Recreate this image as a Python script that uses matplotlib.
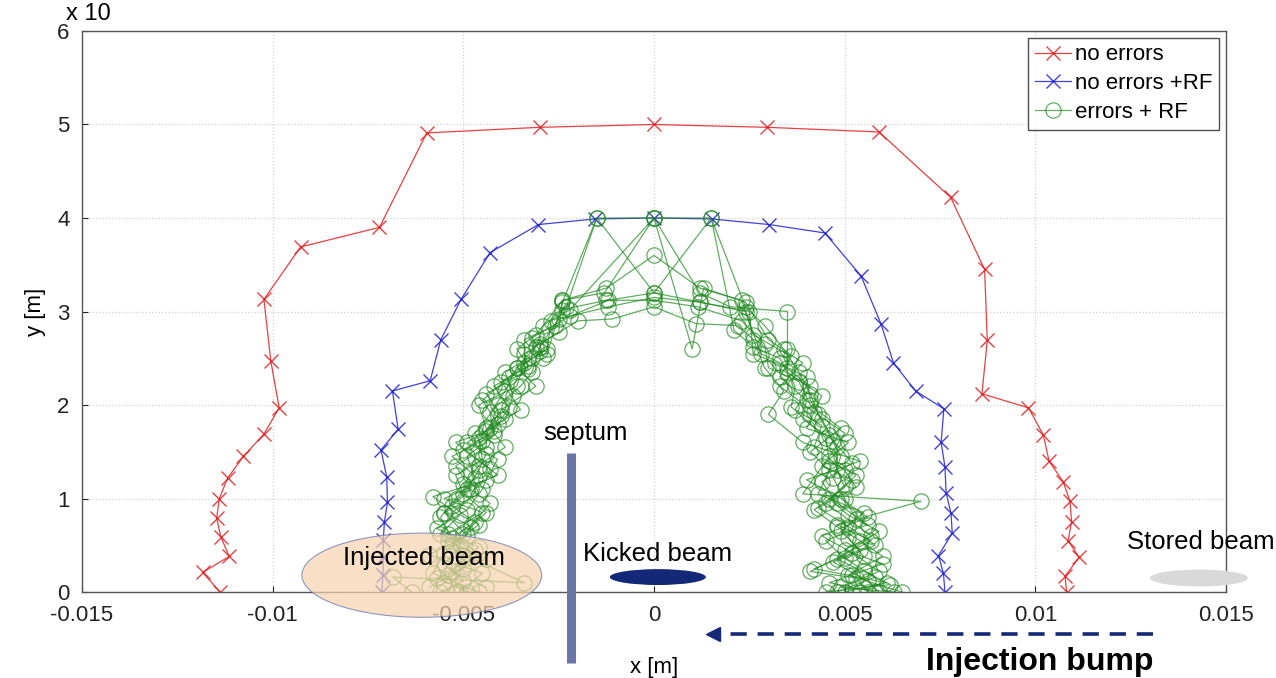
import matplotlib
matplotlib.use('Agg')
import matplotlib.pyplot as plt
from matplotlib.patches import Ellipse
import numpy as np

plt.rcParams['font.family'] = ['Liberation Sans', 'DejaVu Sans']

# Dynamic aperture, y in units of 1e-3 m
red_x = [-0.01138, -0.01184, -0.01114, -0.01136, -0.01147, -0.01140, -0.01118,
         -0.01077, -0.01023, -0.00983, -0.01005, -0.01023, -0.00927, -0.00720,
         -0.00596, -0.00299, 0.0, 0.00296, 0.00590, 0.00778, 0.00867, 0.00874,
         0.00860, 0.00982, 0.01021, 0.01036, 0.01073, 0.01091, 0.01095, 0.01086,
         0.01115, 0.01078, 0.01082]
red_y = [0.0, 0.21, 0.38, 0.59, 0.79, 1.0, 1.22, 1.45, 1.69, 1.97, 2.47, 3.13,
         3.69, 3.90, 4.91, 4.97, 5.0, 4.97, 4.92, 4.22, 3.45, 2.69, 2.12, 1.97,
         1.68, 1.40, 1.18, 0.97, 0.75, 0.55, 0.37, 0.17, 0.0]

blue_x = [-0.00714, -0.00711, -0.00710, -0.00710, -0.00707, -0.00699, -0.00701,
          -0.00716, -0.00671, -0.00686, -0.00587, -0.00559, -0.00506, -0.00430,
          -0.00303, -0.00155, 0.0, 0.00151, 0.00302, 0.00448, 0.00543, 0.00595,
          0.00628, 0.00686, 0.00760, 0.00753, 0.00763, 0.00766, 0.00779, 0.00782,
          0.00746, 0.00759, 0.00763]
blue_y = [0.0, 0.18, 0.37, 0.56, 0.75, 0.96, 1.23, 1.52, 1.74, 2.15, 2.26, 2.70,
          3.13, 3.63, 3.93, 3.99, 4.0, 3.99, 3.93, 3.84, 3.38, 2.87, 2.45, 2.15,
          1.96, 1.60, 1.34, 1.06, 0.84, 0.63, 0.39, 0.20, 0.0]

# errors + RF, one list per seed (x in mm)
seeds_x_mm = [
    [-5.2, -5.4, -5.0, -5.3, -5.6, -5.2, -4.7, -4.9, -4.2, -4.3, -3.9, -3.6, -3.1,
     -2.9, -2.3, -1.5, 0.0, 1.5, 2.4, 2.9, 3.4, 3.8, 4.1, 4.3, 4.6, 4.9, 4.7, 5.0,
     5.3, 5.1, 5.5, 5.2, 5.4],
    [-4.6, -5.8, -5.5, -5.0, -4.4, -5.0, -5.2, -4.5, -4.6, -4.0, -4.4, -3.3, -3.4,
     -2.5, -2.4, -1.25, 0.0, 1.2, 2.3, 2.6, 3.6, 3.3, 4.0, 3.9, 4.7, 5.2, 4.4, 4.8,
     5.6, 4.5, 5.0, 5.8, 4.8],
    [-5.9, -5.0, -4.7, -5.6, -5.1, -5.8, -4.4, -4.1, -4.9, -3.9, -3.7, -3.9, -3.0,
     -3.2, -2.2, -1.2, 0.0, 1.2, 2.4, 2.8, 3.3, 4.1, 3.7, 4.4, 4.2, 5.0, 5.3, 4.3,
     5.1, 5.8, 4.7, 5.6, 5.9],
    [-5.5, -4.9, -5.3, -4.6, -5.3, -4.8, -5.2, -4.4, -4.4, -4.6, -3.6, -3.4, -3.4,
     -2.6, -2.4, -1.25, 0.0, 1.15, 2.3, 2.9, 3.0, 3.8, 4.1, 4.9, 4.1, 4.6, 4.3, 5.5,
     4.9, 5.4, 4.2, 6.1, 5.0],
    [-4.9, -5.7, -4.4, -5.4, -4.7, -4.3, -5.0, -4.6, -3.9, -4.3, -3.5, -4.0, -2.9,
     -3.0, -2.0, -1.1, 0.0, 1.1, 2.2, 2.6, 2.9, 3.4, 3.0, 3.9, 5.4, 4.0, 4.9, 5.6,
     4.4, 5.2, 5.9, 4.9, 6.3],
    [-6.35, -6.85, -3.4, -5.0, -5.4, -4.5, -5.5, -4.1, -5.2, -4.4, -4.0, -3.1, -3.6,
     -2.8, -2.7, -2.2, 0.0, 1.0, 1.3, 2.4, 3.0, 3.9, 3.3, 4.2, 5.0, 4.6, 3.9, 7.0,
     4.8, 5.7, 4.1, 5.3, 5.6],
    [-4.4, -5.3, -4.6, -5.7, -4.9, -4.5, -4.3, -5.0, -4.2, -3.8, -4.2, -3.3, -3.6,
     -3.1, -2.4, -1.3, 0.0, 1.2, 2.0, 3.5, 3.5, 3.5, 4.4, 4.0, 5.1, 4.4, 5.2, 4.5,
     5.7, 5.0, 6.0, 4.6, 5.8],
    [-5.1, -4.5, -5.9, -4.9, -5.5, -4.6, -4.8, -5.3, -4.5, -4.1, -4.5, -3.8, -3.2,
     -2.8, -2.4, -1.5, 0.0, 1.5, 2.1, 2.6, 3.3, 3.7, 3.6, 4.5, 4.6, 5.3, 4.6, 5.1,
     5.9, 4.8, 5.5, 6.2, 4.5],
    [-5.6, -5.0, -5.5, -5.1, -4.8, -5.5, -4.9, -4.6, -4.4, -4.7, -4.1, -3.5, -3.2,
     -3.0, -2.5, -1.2, 0.0, 1.2, 2.5, 2.6, 3.5, 4.0, 4.1, 4.4, 4.8, 4.8, 5.0, 4.2,
     4.8, 5.4, 6.0, 5.1, 6.5],
]
seeds_y = [
    [0.0, 0.18, 0.38, 0.58, 0.80, 1.0, 1.22, 1.45, 1.68, 1.92, 2.15, 2.40, 2.62,
     2.85, 3.05, 4.0, 4.0, 4.0, 3.05, 2.85, 2.60, 2.35, 2.12, 1.90, 1.68, 1.45, 1.22,
     1.0, 0.78, 0.58, 0.38, 0.18, 0.0],
    [0.0, 0.20, 0.42, 0.62, 0.85, 1.05, 1.25, 1.42, 1.65, 1.88, 2.12, 2.38, 2.55,
     2.78, 3.12, 3.25, 3.6, 3.25, 3.12, 2.75, 2.52, 2.30, 2.05, 1.85, 1.62, 1.38, 1.18,
     0.95, 0.72, 0.55, 0.36, 0.16, 0.0],
    [0.05, 0.25, 0.45, 0.62, 0.82, 1.02, 1.20, 1.42, 1.60, 1.85, 2.10, 2.35, 2.58,
     2.72, 2.95, 3.12, 3.2, 3.10, 3.0, 2.55, 2.45, 2.20, 1.95, 1.78, 1.55, 1.30, 1.12,
     0.90, 0.70, 0.50, 0.32, 0.12, 0.0],
    [0.10, 0.30, 0.50, 0.72, 0.92, 1.10, 1.35, 1.55, 1.75, 2.0, 2.20, 2.45, 2.70,
     2.85, 3.02, 3.12, 3.12, 3.05, 2.90, 2.65, 2.40, 2.25, 2.0, 1.75, 1.50, 1.30, 1.05,
     0.85, 0.65, 0.45, 0.25, 0.10, 0.0],
    [0.0, 0.15, 0.35, 0.55, 0.75, 0.95, 1.15, 1.35, 1.55, 1.75, 1.95, 2.25, 2.50,
     2.65, 2.90, 2.92, 3.05, 2.87, 2.85, 2.70, 2.40, 2.15, 1.90, 1.60, 1.40, 1.20, 1.0,
     0.80, 0.60, 0.42, 0.22, 0.05, 0.0],
    [0.0, 0.16, 0.10, 0.40, 0.62, 0.85, 1.0, 1.25, 1.60, 1.72, 1.95, 2.20, 2.40,
     2.60, 2.90, 3.02, 4.0, 2.60, 3.25, 3.10, 2.70, 2.45, 2.20, 1.92, 1.70, 1.45, 1.05,
     0.97, 0.72, 0.55, 0.22, 0.15, 0.0],
    [0.05, 0.22, 0.48, 0.68, 0.88, 1.10, 1.32, 1.52, 1.72, 1.98, 2.20, 2.42, 2.60,
     2.75, 3.12, 3.20, 4.0, 3.20, 3.05, 3.0, 2.60, 2.35, 2.10, 1.75, 1.60, 1.35, 1.20,
     0.95, 0.60, 0.45, 0.30, 0.10, 0.0],
    [0.0, 0.20, 0.40, 0.60, 0.85, 1.05, 1.28, 1.45, 1.62, 1.80, 2.05, 2.30, 2.50,
     2.55, 3.10, 4.0, 3.2, 4.0, 2.80, 2.62, 2.50, 2.20, 1.98, 1.65, 1.40, 1.25, 1.0,
     0.82, 0.65, 0.35, 0.22, 0.08, 0.0],
    [0.0, 0.12, 0.30, 0.50, 0.70, 0.85, 1.10, 1.30, 1.48, 1.70, 2.0, 2.20, 2.35,
     2.62, 2.92, 3.05, 3.15, 3.10, 3.0, 2.55, 2.40, 2.30, 2.05, 1.85, 1.55, 1.30, 1.12,
     0.88, 0.70, 0.55, 0.38, 0.18, 0.0],
]

labels = ['no errors', 'no errors +RF', 'errors + RF']
x_ticks = [-0.015, -0.01, -0.005, 0, 0.005, 0.01, 0.015]
x_tick_labels = ['-0.015', '-0.01', '-0.005', '0', '0.005', '0.01', '0.015']
y_ticks = [0, 1, 2, 3, 4, 5, 6]

fig = plt.figure(figsize=(12.76, 6.78), dpi=100)
ax = fig.add_axes([0.0643, 0.1268, 0.8965, 0.8275])

green = '#1f8a1f'
ax.plot(red_x, red_y, color='#e02020', marker='x', markersize=10,
        linewidth=0.9, markeredgewidth=1.0, alpha=0.85, label=labels[0])
ax.plot(blue_x, blue_y, color='#2020d0', marker='x', markersize=10,
        linewidth=0.9, markeredgewidth=1.0, alpha=0.85, label=labels[1])
for i, (sx, sy) in enumerate(zip(seeds_x_mm, seeds_y)):
    ax.plot(np.array(sx) * 1e-3, sy, color=green, marker='o', markersize=11,
            fillstyle='none', linewidth=0.9, markeredgewidth=0.9, alpha=0.7,
            label=labels[2] if i == 0 else None)

ax.set_xlim(-0.015, 0.015)
ax.set_ylim(0, 6)
ax.set_xticks(x_ticks)
ax.set_xticklabels(x_tick_labels)
ax.set_yticks(y_ticks)
ax.tick_params(direction='in', length=4, labelsize=16, colors='#222222')
ax.tick_params(axis='x', pad=9)
ax.tick_params(axis='y', pad=9)
ax.grid(True, color='#d0d0d0', linestyle=':', linewidth=0.9)
for s in ax.spines.values():
    s.set_color('#555555')
    s.set_linewidth(1.0)
ax.set_xlabel('x [m]', fontsize=16, labelpad=23)
ax.set_ylabel('y [m]', fontsize=16, labelpad=8)

fig.text(66 / 1276, 1 - 20 / 678, 'x 10', fontsize=17, va='baseline', ha='left')

leg = ax.legend(loc='upper right', fontsize=16, frameon=True, fancybox=False,
                handlelength=1.6, handletextpad=0.2, borderpad=0.3,
                labelspacing=0.35, borderaxespad=0.3)
leg.get_frame().set_edgecolor('#222222')
leg.get_frame().set_linewidth(1.0)

# Beam sketches
inj = Ellipse((-0.00609, 0.18), 0.00629, 0.90, facecolor='#f7d2ae', alpha=0.7,
              edgecolor='#6070b0', linewidth=0.8, clip_on=False, zorder=5)
ax.add_patch(inj)
ax.text(-0.00603, 0.36, 'Injected beam', fontsize=18.5, ha='center',
        va='center', zorder=6)

ax.plot([-0.00219, -0.00219], [1.49, -0.76], color='#6a75a8', linewidth=6.5,
        solid_capstyle='butt', clip_on=False, zorder=6)
ax.text(-0.00180, 1.70, 'septum', fontsize=18.5, ha='center', va='center')

kick = Ellipse((0.0001, 0.16), 0.00252, 0.17, facecolor='#142878',
               edgecolor='none', clip_on=False, zorder=6)
ax.add_patch(kick)
ax.text(0.0001, 0.41, 'Kicked beam', fontsize=18.5, ha='center', va='center')

stored = Ellipse((0.01429, 0.15), 0.00257, 0.18, facecolor='#d9d9d9',
                 edgecolor='none', clip_on=False, zorder=6)
ax.add_patch(stored)
ax.text(0.01433, 0.54, 'Stored beam', fontsize=18.5, ha='center', va='center',
        clip_on=False)

ax.plot([0.01308, 0.00175], [-0.449, -0.449], color='#142878', linewidth=2.6,
        linestyle=(0, (4.5, 3.0)), clip_on=False)
ax.plot([0.00155], [-0.449], marker='<', markersize=10, color='#142878',
        clip_on=False)
ax.text(0.01310, -0.75, 'Injection bump', fontsize=23, fontweight='bold',
        ha='right', va='center')

fig.savefig('out.png', dpi=100)
